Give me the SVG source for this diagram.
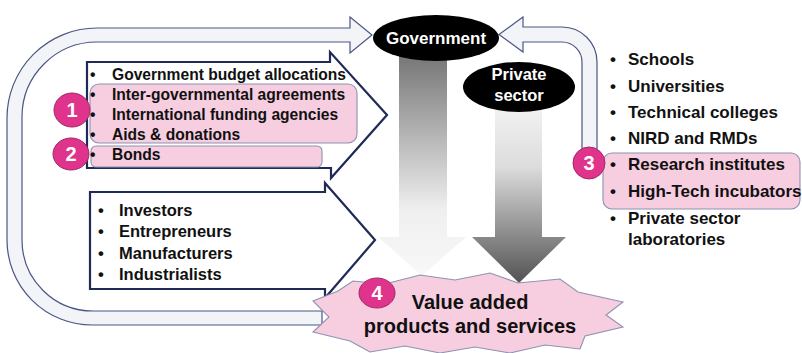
<svg xmlns="http://www.w3.org/2000/svg" width="802" height="353" viewBox="0 0 802 353">
<defs>
<style>
.band{fill:#f2f4f8;stroke:#4a5684;stroke-width:1.2}
.box{fill:#ffffff;stroke:#1f2a57;stroke-width:2.2}
.pink{fill:#f7cde0;stroke:#8e92b2;stroke-width:1.1}
.num{fill:#e0338c;stroke:#a02868;stroke-width:1}
.numt{font-family:"Liberation Sans",Arial,sans-serif;font-weight:bold;font-size:20px;fill:#ffffff;text-anchor:middle}
.oval{fill:#000000}
.ovt{font-family:"Liberation Sans",Arial,sans-serif;font-weight:bold;fill:#ffffff;text-anchor:middle}
.t15{font-family:"Liberation Sans",Arial,sans-serif;font-weight:bold;font-size:15.6px;fill:#111111}
.t16{font-family:"Liberation Sans",Arial,sans-serif;font-weight:bold;font-size:16.5px;fill:#111111}
.t17{font-family:"Liberation Sans",Arial,sans-serif;font-weight:bold;font-size:17px;fill:#111111}
.t20{font-family:"Liberation Sans",Arial,sans-serif;font-weight:bold;font-size:20px;fill:#111111;text-anchor:middle}
</style>
<linearGradient id="gGov" x1="0" y1="0" x2="0" y2="1">
<stop offset="0" stop-color="#767676"/>
<stop offset="0.7" stop-color="#efefef"/>
<stop offset="1" stop-color="#f8f8f8"/>
</linearGradient>
<linearGradient id="gPriv" x1="0" y1="0" x2="0" y2="1">
<stop offset="0" stop-color="#f3f3f3"/>
<stop offset="0.35" stop-color="#dcdcdc"/>
<stop offset="1" stop-color="#525252"/>
</linearGradient>
</defs>

<g id="connectors">
<path id="loop-left" class="band" d="M 322 325 L 92 325 A 85 85 0 0 1 7 240 L 7 118 A 90 90 0 0 1 97 28 L 350 28 L 350 17 L 372 35 L 350 53 L 350 42 L 97 42 A 75 75 0 0 0 22 117 L 22 240 A 71 71 0 0 0 93 311 L 322 311 Z"/>
<path id="loop-right" class="band" d="M 582 162 L 582 62 A 20 20 0 0 0 562 42 L 523 42 L 523 52 L 499 34.5 L 523 17 L 523 27 L 562 27 A 35 35 0 0 1 597 62 L 597 162 Z"/>
<path id="gov-arrow" fill="url(#gGov)" d="M 399 55 L 447 55 L 447 237 L 466 237 L 422 276 L 378 237 L 399 237 Z"/>
<path id="priv-arrow" fill="url(#gPriv)" d="M 495 105 L 542 105 L 542 237 L 566 237 L 519 283 L 472 237 L 495 237 Z"/>
</g>

<g id="funding-public">
<path class="box" d="M 87 62 L 330 62 L 330 52 L 387 115 L 331 178 L 331 168 L 87 168 Z"/>
<rect class="pink" x="90" y="84" width="267" height="59" rx="9"/>
<rect class="pink" x="91" y="146" width="231" height="21" rx="5"/>
<text class="t15" x="90" y="80">•</text><text class="t15" x="112" y="80">Government budget allocations</text>
<text class="t15" x="90" y="100">•</text><text class="t15" x="112" y="100">Inter-governmental agreements</text>
<text class="t15" x="90" y="120">•</text><text class="t15" x="112" y="120">International funding agencies</text>
<text class="t15" x="90" y="140">•</text><text class="t15" x="112" y="140">Aids &amp; donations</text>
<text class="t15" x="90" y="160">•</text><text class="t15" x="112" y="160">Bonds</text>
</g>

<g id="funding-private">
<path class="box" d="M 90 192 L 325 192 L 325 183 L 375 240 L 325 298 L 325 289 L 90 289 Z"/>
<text class="t16" x="98" y="216">•</text><text class="t16" x="119" y="216">Investors</text>
<text class="t16" x="98" y="237">•</text><text class="t16" x="119" y="237">Entrepreneurs</text>
<text class="t16" x="98" y="259">•</text><text class="t16" x="119" y="259">Manufacturers</text>
<text class="t16" x="98" y="280">•</text><text class="t16" x="119" y="280">Industrialists</text>
</g>

<g id="government">
<ellipse class="oval" cx="436" cy="38" rx="63" ry="23"/>
<text class="ovt" x="436" y="44" font-size="17">Government</text>
</g>

<g id="private-sector">
<ellipse class="oval" cx="519" cy="87" rx="56" ry="25"/>
<text class="ovt" x="519" y="80" font-size="16.5">Private</text>
<text class="ovt" x="519" y="101" font-size="16.5">sector</text>
</g>

<g id="research">
<rect class="pink" x="603" y="153" width="197" height="56" rx="9"/>
<text class="t17" x="610" y="65">•</text><text class="t17" x="628" y="65">Schools</text>
<text class="t17" x="610" y="92">•</text><text class="t17" x="628" y="92">Universities</text>
<text class="t17" x="610" y="118">•</text><text class="t17" x="628" y="118">Technical colleges</text>
<text class="t17" x="610" y="144">•</text><text class="t17" x="628" y="144">NIRD and RMDs</text>
<text class="t17" x="610" y="170">•</text><text class="t17" x="628" y="170">Research institutes</text>
<text class="t17" x="610" y="197">•</text><text class="t17" x="628" y="197">High-Tech incubators</text>
<text class="t17" x="610" y="224">•</text><text class="t17" x="628" y="224">Private sector</text>
<text class="t17" x="628" y="245">laboratories</text>
</g>

<g id="value-added">
<path class="pink" d="M 313 301 L 338 291 L 353 281 L 385 284 L 420 275 L 455 280 L 490 273 L 518 283 L 560 279 L 578 292 L 623 302 L 606 315 L 623 327 L 585 336 L 580 349 L 545 345 L 510 353 L 475 347 L 440 353 L 405 346 L 370 352 L 350 341 L 313 332 L 329 317 Z"/>
<text class="t20" x="470" y="309">Value added</text>
<text class="t20" x="470" y="333">products and services</text>
</g>

<g id="badge-1"><ellipse class="num" cx="72" cy="110" rx="18" ry="17"/><text class="numt" x="72" y="117">1</text></g>
<g id="badge-2"><ellipse class="num" cx="71" cy="154" rx="18" ry="16"/><text class="numt" x="71" y="161">2</text></g>
<g id="badge-3"><ellipse class="num" cx="589" cy="163" rx="16" ry="16"/><text class="numt" x="589" y="170">3</text></g>
<g id="badge-4"><ellipse class="num" cx="377" cy="293" rx="18" ry="15"/><text class="numt" x="377" y="300">4</text></g>
</svg>
